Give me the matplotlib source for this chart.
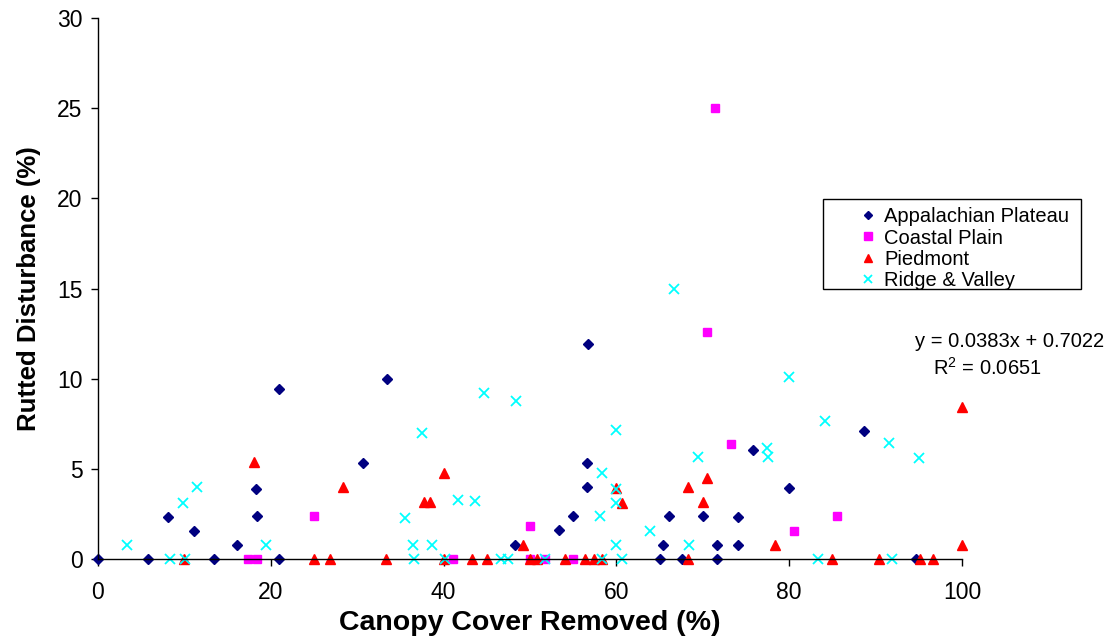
import matplotlib
matplotlib.use("Agg")
import matplotlib.pyplot as plt
from matplotlib.patches import Rectangle

plt.rcParams["font.family"] = ["Liberation Sans", "DejaVu Sans"]
plt.rcParams["mathtext.fontset"] = "custom"
plt.rcParams["mathtext.rm"] = "Liberation Sans"

# Appalachian Plateau
app_x = [0, 5.8, 8.1, 11.1, 13.4, 16.1, 18.3, 18.4, 21.0, 21.0, 30.7, 33.4, 48.3, 53.3,
         55.0, 56.6, 56.6, 56.7, 65.1, 65.4, 66.1, 67.6, 70.0, 71.7, 71.7, 74.1, 74.1,
         75.8, 80.0, 88.7, 94.7]
app_y = [0, 0, 2.33, 1.55, 0, 0.78, 3.9, 2.38, 9.4, 0, 5.34, 10.0, 0.76, 1.59,
         2.38, 5.34, 3.99, 11.9, 0, 0.78, 2.38, 0, 2.38, 0.79, 0, 2.31, 0.76,
         6.06, 3.92, 7.08, 0]

# Coastal Plain
cp_x = [17.4, 18.4, 25.0, 41.1, 50.0, 50.0, 51.7, 55.0, 70.5, 71.4, 73.3, 80.6, 85.5]
cp_y = [0, 0, 2.37, 0, 1.85, 0, 0, 0, 12.6, 25.0, 6.36, 1.55, 2.37]

# Piedmont
pd_x = [10.0, 18.1, 25.0, 26.8, 28.4, 33.3, 37.7, 38.4, 40.0, 40.0, 43.3, 45.0, 49.2,
        50.0, 50.8, 54.1, 56.4, 57.4, 58.3, 60.0, 60.7, 68.3, 68.3, 70.0, 70.5, 78.4,
        85.0, 90.4, 95.1, 96.7, 100, 100]
pd_y = [0, 5.4, 0, 0, 3.98, 0, 3.14, 3.18, 4.79, 0, 0, 0, 0.78,
        0, 0, 0, 0, 0, 0, 3.96, 3.12, 3.98, 0, 3.18, 4.47, 0.76,
        0, 0, 0, 0, 8.45, 0.76]

# Ridge & Valley
rv_x = [3.4, 8.3, 9.8, 10.1, 11.5, 19.4, 35.5, 36.5, 36.6, 37.5, 38.7, 40.2, 41.7,
        43.6, 44.7, 46.7, 47.5, 48.4, 51.7, 58.1, 58.3, 58.3, 60.0, 60.0, 60.0, 60.0,
        60.7, 63.9, 66.7, 68.4, 69.5, 77.4, 77.5, 80.0, 83.3, 84.1, 91.6, 91.9, 95.0]
rv_y = [0.78, 0, 3.1, 0, 3.98, 0.78, 2.29, 0.76, 0, 6.97, 0.76, 0, 3.27,
        3.2, 9.22, 0, 0, 8.78, 0, 2.38, 4.75, 0, 7.14, 3.88, 3.12, 0.78,
        0, 1.55, 14.96, 0.78, 5.64, 6.17, 5.64, 10.08, 0, 7.64, 6.45, 0, 5.6]

x_ticks = [0, 20, 40, 60, 80, 100]
y_ticks = [0, 5, 10, 15, 20, 25, 30]
eq_line = "y = 0.0383x + 0.7022"
r2_line = "R$^2$ = 0.0651"

W, H = 1116, 639
fig = plt.figure(figsize=(W / 100, H / 100), dpi=100)
ax = fig.add_axes([98 / W, 1 - 559 / H, (962 - 98) / W, (559 - 18) / H])

ax.plot(app_x, app_y, "D", color="#000080", ms=4.6, ls="none", clip_on=False,
        label="Appalachian Plateau")
ax.plot(cp_x, cp_y, "s", color="#FF00FF", ms=6.4, ls="none", clip_on=False,
        label="Coastal Plain")
ax.plot(pd_x, pd_y, "^", color="#FF0000", ms=7.2, ls="none", clip_on=False,
        label="Piedmont")
ax.plot(rv_x, rv_y, "x", color="#00FFFF", ms=7.2, mew=1.3, ls="none", clip_on=False,
        label="Ridge & Valley")

ax.set_xlim(0, 100)
ax.set_ylim(0, 30)
ax.set_xticks(x_ticks)
ax.set_yticks(y_ticks)
ax.spines["top"].set_visible(False)
ax.spines["right"].set_visible(False)
for s in ("left", "bottom"):
    ax.spines[s].set_linewidth(1.0)
ax.tick_params(direction="out", length=5, width=1, labelsize=16.5)
ax.tick_params(axis="x", pad=11)
ax.tick_params(axis="y", pad=6)
ax.set_xlabel("Canopy Cover Removed (%)", fontsize=20.5, fontweight="bold", labelpad=4)
ax.set_ylabel("Rutted Disturbance (%)", fontsize=18.5, fontweight="bold", labelpad=12)

leg = fig.legend(loc="upper left", bbox_to_anchor=(845 / W, 1 - 193 / H),
                 frameon=False, fontsize=14.5, handlelength=0.9, handletextpad=0.35,
                 labelspacing=0.12, borderpad=0.2, markerscale=0.8)

fig.canvas.draw()
bb = leg.get_window_extent()
right = bb.x1 + 8
fig.patches.append(Rectangle((822.7 / W, 1 - 289 / H), (right - 822.7) / W, 90 / H,
                             transform=fig.transFigure, fill=False, ec="black", lw=1))

fig.text(915 / W, 1 - 342 / H, eq_line, fontsize=14.5, ha="left", va="center")
fig.text(933 / W, 1 - 368 / H, r2_line, fontsize=14.5, ha="left", va="center")

fig.savefig("out.png", dpi=100)
